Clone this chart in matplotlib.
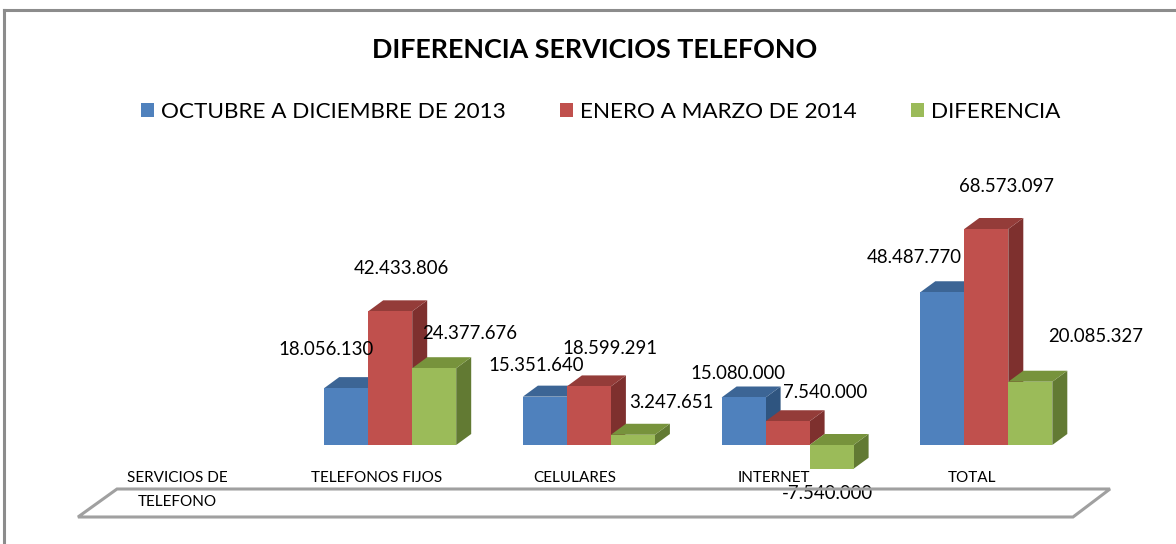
import numpy as np
import matplotlib
matplotlib.use("Agg")
import matplotlib.pyplot as plt
from matplotlib.patches import Polygon, Patch
from matplotlib.lines import Line2D

# ---------------- data ----------------
categories = ["SERVICIOS DE\nTELEFONO", "TELEFONOS FIJOS", "CELULARES", "INTERNET", "TOTAL"]
series_names = ["OCTUBRE A DICIEMBRE DE 2013", "ENERO A MARZO DE 2014", "DIFERENCIA"]
oct_dic_2013 = [np.nan, 18056130, 15351640, 15080000, 48487770]
ene_mar_2014 = [np.nan, 42433806, 18599291, 7540000, 68573097]
diferencia = [np.nan, 24377676, 3247651, -7540000, 20085327]
title = "DIFERENCIA SERVICIOS TELEFONO"

# ---------------- style ----------------
front_colors = ["#4F81BD", "#C0504D", "#9BBB59"]
top_colors = ["#3C6595", "#943C39", "#77933C"]
side_colors = ["#2F5580", "#7E302E", "#627A33"]
# label offsets (pixels) relative to the front-top centre of each bar
label_offsets = [
    [None, (-20, 39), (-9, 31), (-6, 24), (-28, 35)],
    [None, (11, 43), (21, 38), (38, 29), (20, 42)],
    [None, (35, 35), (39, 32), (-4, -25), (65, 45)],
]

W, H = 1176, 544
fig = plt.figure(figsize=(W / 100, H / 100), dpi=100)
ax = fig.add_axes([0, 0, 1, 1])
ax.set_axis_off()

x0_px, step_px = 191.5, 198.7          # category centre layout
base_px, px_per_unit = 445.0, 3.15e-6  # value axis layout
ax.set_xlim(-x0_px / step_px, (W - x0_px) / step_px)
ax.set_ylim(-(H - base_px) / px_per_unit, base_px / px_per_unit)

bar_w = 44 / step_px
ddx = 15 / step_px
ddy = 11 / px_per_unit

series = [oct_dic_2013, ene_mar_2014, diferencia]
x = np.arange(len(categories))

z = 3
for ci in range(len(categories)):
    for si, vals in enumerate(series):
        v = vals[ci]
        if np.isnan(v):
            continue
        xc = x[ci] + (si - 1) * bar_w
        left, right = xc - bar_w / 2, xc + bar_w / 2
        top, bot = max(v, 0), min(v, 0)
        side = Polygon([(right, bot), (right + ddx, bot + ddy), (right + ddx, top + ddy), (right, top)],
                       closed=True, facecolor=side_colors[si], edgecolor="none", zorder=z)
        topf = Polygon([(left, top), (left + ddx, top + ddy), (right + ddx, top + ddy), (right, top)],
                       closed=True, facecolor=top_colors[si], edgecolor="none", zorder=z + 1)
        ax.add_patch(side)
        ax.add_patch(topf)
        ax.bar(xc, v, width=bar_w, color=front_colors[si], zorder=z + 2, linewidth=0)
        z += 3
        dx, dy = label_offsets[si][ci]
        lab = f"{int(v):,}".replace(",", ".")
        ax.annotate(lab, (xc, v), xytext=(dx, dy), textcoords="offset pixels",
                    ha="center", va="center", fontsize=13.4, family="Lato",
                    color="black", zorder=200)

# category labels
for ci, c in enumerate(categories):
    ax.annotate(c, (x[ci], 0), xytext=(-14, -26), textcoords="offset pixels",
                ha="center", va="top", fontsize=11, family="Lato",
                linespacing=1.95, zorder=200)

# floor parallelogram (pixel coords from top-left)
floor_px = [(117, 489), (1110, 489), (1073, 517), (78, 517)]
floor = Polygon([(px / W, 1 - py / H) for px, py in floor_px], closed=True,
                transform=fig.transFigure, facecolor="none", edgecolor="#a0a0a0",
                linewidth=2.2, zorder=1)
fig.patches.append(floor)

# chart frame
fig.lines.append(Line2D([4 / W, 1], [1 - 10 / H, 1 - 10 / H], transform=fig.transFigure,
                        color="#8c8c8c", linewidth=2.2))
fig.lines.append(Line2D([4 / W, 4 / W], [1 - 10 / H, 0], transform=fig.transFigure,
                        color="#8c8c8c", linewidth=2.2))

fig.text(595 / W, 1 - 50 / H, title, ha="center", va="center", fontsize=19.4,
         fontweight="bold", family="Lato")

handles = [Patch(facecolor=c, edgecolor="none") for c in front_colors]
fig.legend(handles, series_names, loc="center", bbox_to_anchor=(601 / W, 1 - 112 / H),
           ncol=3, frameon=False, prop={"family": "Lato", "size": 16.2},
           handlelength=0.55, handleheight=0.55, handletextpad=0.35, columnspacing=2.4)

fig.savefig("out.png", dpi=100)
